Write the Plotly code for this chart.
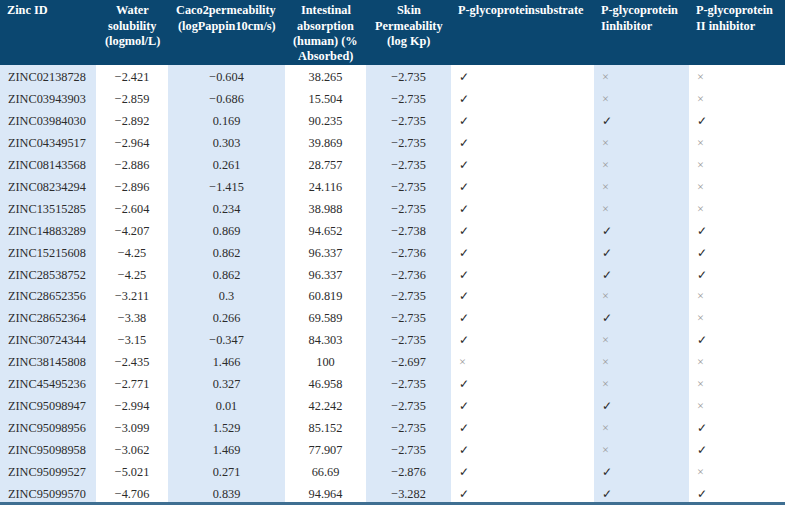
import plotly.graph_objects as go

zinc_ids = ["ZINC02138728", "ZINC03943903", "ZINC03984030", "ZINC04349517", "ZINC08143568",
            "ZINC08234294", "ZINC13515285", "ZINC14883289", "ZINC15215608", "ZINC28538752",
            "ZINC28652356", "ZINC28652364", "ZINC30724344", "ZINC38145808", "ZINC45495236",
            "ZINC95098947", "ZINC95098956", "ZINC95098958", "ZINC95099527", "ZINC95099570"]
water_solubility = ["−2.421", "−2.859", "−2.892", "−2.964", "−2.886", "−2.896", "−2.604", "−4.207",
                    "−4.25", "−4.25", "−3.211", "−3.38", "−3.15", "−2.435", "−2.771", "−2.994",
                    "−3.099", "−3.062", "−5.021", "−4.706"]
caco2 = ["−0.604", "−0.686", "0.169", "0.303", "0.261", "−1.415", "0.234", "0.869", "0.862", "0.862",
         "0.3", "0.266", "−0.347", "1.466", "0.327", "0.01", "1.529", "1.469", "0.271", "0.839"]
intestinal = ["38.265", "15.504", "90.235", "39.869", "28.757", "24.116", "38.988", "94.652", "96.337",
              "96.337", "60.819", "69.589", "84.303", "100", "46.958", "42.242", "85.152", "77.907",
              "66.69", "94.964"]
skin = ["−2.735", "−2.735", "−2.735", "−2.735", "−2.735", "−2.735", "−2.735", "−2.738", "−2.736",
        "−2.736", "−2.735", "−2.735", "−2.735", "−2.697", "−2.735", "−2.735", "−2.735", "−2.735",
        "−2.876", "−3.282"]
# 1 = yes (✓), 0 = no (×)
pgp_substrate = [1, 1, 1, 1, 1, 1, 1, 1, 1, 1, 1, 1, 1, 0, 1, 1, 1, 1, 1, 1]
pgp_i_inhibitor = [0, 0, 1, 0, 0, 0, 0, 1, 1, 1, 0, 1, 0, 0, 0, 1, 0, 0, 1, 1]
pgp_ii_inhibitor = [0, 0, 1, 0, 0, 0, 0, 1, 1, 1, 0, 0, 1, 0, 0, 0, 1, 1, 0, 1]

header_lines = [
    ["Zinc ID"],
    ["Water", "solubility", "(logmol/L)"],
    ["Caco2permeability", "(logPappin10cm/s)"],
    ["Intestinal", "absorption", "(human) (%", "Absorbed)"],
    ["Skin", "Permeability", "(log Kp)"],
    ["P-glycoproteinsubstrate"],
    ["P-glycoprotein", "Iinhibitor"],
    ["P-glycoprotein", "II inhibitor"],
]

def marks(vals):
    return ["✓" if v else "×" for v in vals]

def mark_colors(vals):
    return ["#2b2b2b" if v else "#9a9a9a" for v in vals]

W, H = 785, 506
FONT = "Liberation Serif, Times New Roman, serif"
FS = 12.3
text_col = "#2b2b2b"
n = len(zinc_ids)
columns = [zinc_ids, water_solubility, caco2, intestinal, skin,
           marks(pgp_substrate), marks(pgp_i_inhibitor), marks(pgp_ii_inhibitor)]
font_colors = [[text_col] * n] * 5 + [mark_colors(pgp_substrate), mark_colors(pgp_i_inhibitor),
                                      mark_colors(pgp_ii_inhibitor)]

blue = "#dbe8f7"
white = "#ffffff"
col_fills = [blue, white, blue, white, blue, white, blue, white]
col_widths = [96, 72, 117, 81, 85, 143, 95, 96]
aligns = ["left", "center", "center", "center", "center", "left", "left", "left"]
header_bg = "#0b4770"
header_h = 62
row_h = 21.92

fig = go.Figure(go.Table(
    columnwidth=col_widths,
    domain=dict(x=[0, 1], y=[0, 1 - 2 / H]),
    header=dict(
        values=[""] * len(col_widths),
        fill_color=header_bg,
        line=dict(color=header_bg, width=1),
        height=header_h,
    ),
    cells=dict(
        values=columns,
        fill_color=col_fills,
        line=dict(color=col_fills, width=1),
        align=aligns,
        height=row_h,
        font=dict(family=FONT, size=FS, color=font_colors),
    ),
))

# keep the header colour up to the very top edge
fig.add_shape(type="rect", xref="paper", yref="paper", x0=0, x1=1, y0=1 - 10 / H, y1=1,
              fillcolor=header_bg, line=dict(width=0), layer="below")

# header labels, one line each so every line is centred on its own
left = 0
for lines, cw, al in zip(header_lines, col_widths, aligns):
    if al == "center":
        x_px, xa = left + cw / 2, "center"
    else:
        x_px, xa = left + 5, "left"
    for i, line in enumerate(lines):
        y_px = 10.5 + i * 15.1
        fig.add_annotation(text=f"<b>{line}</b>", xref="paper", yref="paper",
                           x=x_px / W, y=1 - y_px / H, xanchor=xa, yanchor="middle",
                           showarrow=False, font=dict(family=FONT, size=FS, color="white"))
    left += cw

fig.add_shape(type="line", xref="paper", yref="paper", x0=0, x1=1,
              y0=(H - 503.5) / H, y1=(H - 503.5) / H,
              line=dict(color="#3f6f92", width=3))

fig.update_layout(width=W, height=H, margin=dict(l=0, r=0, t=0, b=0),
                  paper_bgcolor="white", plot_bgcolor="white")

fig.write_html("out.html", config={"displayModeBar": False},
               post_script="document.body.style.margin='0';")
